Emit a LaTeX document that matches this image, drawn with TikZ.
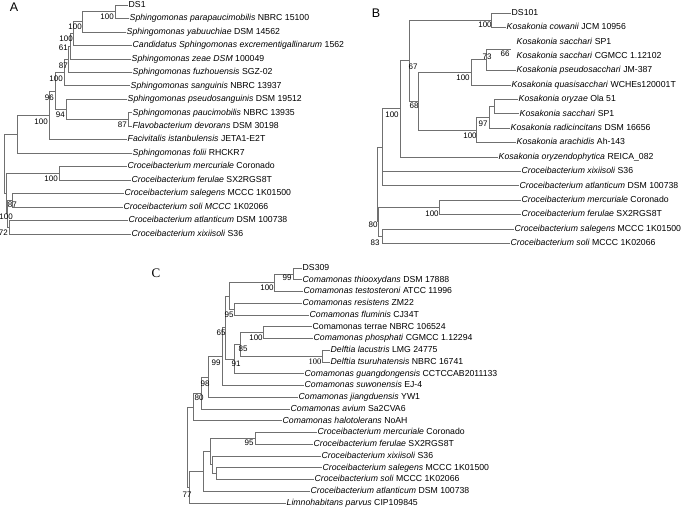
\documentclass[tikz,border=0pt]{standalone}
\usepackage{fontspec}
\setmainfont{Liberation Sans}
\newfontfamily\seriffont{Liberation Serif}
\definecolor{treegray}{RGB}{112,112,112}
\begin{document}
\begin{tikzpicture}[x=1pt,y=-1pt,
  tip/.style={anchor=west,inner sep=1pt,text height=6.3pt,text depth=1.8pt,font=\fontsize{8.7}{10}\selectfont},
  bs/.style={inner sep=0pt,font=\fontsize{8}{9}\selectfont},
  bsr/.style={inner sep=0pt,font=\seriffont\fontsize{8.5}{9}\selectfont},
  br/.style={draw=treegray,line width=0.75pt},
  plab/.style={inner sep=0pt,font=\fontsize{12.5}{14}\selectfont}]
\useasboundingbox (0,0) rectangle (685,508);

% ================= Panel A =================
\node[plab] (LA) at (14,7) {A};
\node[tip] (a0) at (127.5,5.00) {DS1};
\node[tip] (a1) at (128.5,18.47) {\textit{Sphingomonas parapaucimobilis} NBRC 15100};
\node[tip] (a2) at (125.5,31.94) {\textit{Sphingomonas yabuuchiae} DSM 14562};
\node[tip] (a3) at (131.5,45.41) {\textit{Candidatus Sphingomonas excrementigallinarum} 1562};
\node[tip] (a4) at (130.5,58.88) {\textit{Sphingomonas zeae DSM} 100049};
\node[tip] (a5) at (131.5,72.35) {\textit{Sphingomonas fuzhouensis} SGZ-02};
\node[tip] (a6) at (129.5,85.82) {\textit{Sphingomonas sanguinis} NBRC 13937};
\node[tip] (a7) at (126.5,99.29) {\textit{Sphingomonas pseudosanguinis} DSM 19512};
\node[tip] (a8) at (131.5,112.76) {\textit{Sphingomonas paucimobilis} NBRC 13935};
\node[tip] (a9) at (131.5,126.23) {\textit{Flavobacterium devorans} DSM 30198};
\node[tip] (a10) at (126.5,139.70) {\textit{Facivitalis istanbulensis} JETA1-E2T};
\node[tip] (a11) at (131.5,153.17) {\textit{Sphingomonas folii} RHCKR7};
\node[tip] (a12) at (126.5,166.64) {\textit{Croceibacterium mercuriale} Coronado};
\node[tip] (a13) at (130.5,180.11) {\textit{Croceibacterium ferulae} SX2RGS8T};
\node[tip] (a14) at (123.5,193.58) {\textit{Croceibacterium salegens} MCCC 1K01500};
\node[tip] (a15) at (122.5,207.05) {\textit{Croceibacterium soli MCCC} 1K02066};
\node[tip] (a16) at (127.5,220.52) {\textit{Croceibacterium atlanticum} DSM 100738};
\node[tip] (a17) at (130.5,233.99) {\textit{Croceibacterium xixiisoli} S36};

\coordinate (n1) at (115,11.74);
\coordinate (n2) at (82,21.84);
\coordinate (n3) at (73,33.6);
\coordinate (n4) at (70,46.24);
\coordinate (n5) at (68,59.3);
\coordinate (n6) at (64,72.56);
\coordinate (n8) at (128,119.5);
\coordinate (n7) at (66,109.4);
\coordinate (n9) at (55,90.98);
\coordinate (n10) at (49,115.34);
\coordinate (n11) at (17,134.26);
\coordinate (n12) at (59,173.38);
\coordinate (n13) at (12,200.3);
\coordinate (n14) at (9,227.26);
\coordinate (n15) at (7,213.8);
\coordinate (n16) at (6,193.6);
\coordinate (nr) at (4.5,163.9);

\draw[br] (n1) |- (a0.west); \draw[br] (n1) |- (a1.west);
\draw[br] (n2) |- (n1); \draw[br] (n2) |- (a2.west);
\draw[br] (n3) |- (n2); \draw[br] (n3) |- (a3.west);
\draw[br] (n4) |- (n3); \draw[br] (n4) |- (a4.west);
\draw[br] (n5) |- (n4); \draw[br] (n5) |- (a5.west);
\draw[br] (n6) |- (n5); \draw[br] (n6) |- (a6.west);
\draw[br] (n8) |- (a8.west); \draw[br] (n8) |- (a9.west);
\draw[br] (n7) |- (a7.west); \draw[br] (n7) |- (n8);
\draw[br] (n9) |- (n6); \draw[br] (n9) |- (n7);
\draw[br] (n10) |- (n9); \draw[br] (n10) |- (a10.west);
\draw[br] (n11) |- (n10); \draw[br] (n11) |- (a11.west);
\draw[br] (n12) |- (a12.west); \draw[br] (n12) |- (a13.west);
\draw[br] (n13) |- (a14.west); \draw[br] (n13) |- (a15.west);
\draw[br] (n14) |- (a16.west); \draw[br] (n14) |- (a17.west);
\draw[br] (n15) |- (n13); \draw[br] (n15) |- (n14);
\draw[br] (n16) |- (n12); \draw[br] (n16) |- (n15);
\draw[br] (nr) |- (n11); \draw[br] (nr) |- (n16);

\node[bs,anchor=east] (bA1) at (114,17) {100};
\node[bs,anchor=east] (bA2) at (82,27) {100};
\node[bs,anchor=east] (bA3) at (73,39) {100};
\node[bs,anchor=east] (bA4) at (68,48) {61};
\node[bs,anchor=east] (bA5) at (68,66) {87};
\node[bs,anchor=east] (bA6) at (63,79) {100};
\node[bs,anchor=east] (bA8) at (127,125) {87};
\node[bs,anchor=east] (bA7) at (65,115) {94};
\node[bs,anchor=east] (bA9) at (54,98) {96};
\node[bs,anchor=east] (bA10) at (48,122) {100};
\node[bs,anchor=east] (bA12) at (58,179) {100};
\node[bs,anchor=east] (bA13) at (17,205) {87};
\node[bs,anchor=east] (bA15) at (13,217) {100};
\node[bs,anchor=east] (bA14) at (8,233) {72};

% ================= Panel B =================
\node[plab] (LB) at (376,13) {B};
\node[tip] (b0) at (510.5,13.0) {DS101};
\node[tip] (b1) at (505.5,27.4) {\textit{Kosakonia cowanii} JCM 10956};
\node[tip] (b2) at (515.5,41.8) {\textit{Kosakonia sacchari} SP1};
\node[tip] (b3) at (515.5,56.2) {\textit{Kosakonia sacchari} CGMCC 1.12102};
\node[tip] (b4) at (515.5,70.6) {\textit{Kosakonia pseudosacchari} JM-387};
\node[tip] (b5) at (510.5,85.0) {\textit{Kosakonia quasisacchari} WCHEs120001T};
\node[tip] (b6) at (517.5,99.4) {\textit{Kosakonia oryzae} Ola 51};
\node[tip] (b7) at (518.5,113.8) {\textit{Kosakonia sacchari} SP1};
\node[tip] (b8) at (509.5,128.2) {\textit{Kosakonia radicincitans} DSM 16656};
\node[tip] (b9) at (515.5,142.6) {\textit{Kosakonia arachidis} Ah-143};
\node[tip] (b10) at (497.5,157.0) {\textit{Kosakonia oryzendophytica} REICA\_082};
\node[tip] (b11) at (520.5,171.4) {\textit{Croceibacterium xixiisoli} S36};
\node[tip] (b12) at (518.5,185.8) {\textit{Croceibacterium atlanticum} DSM 100738};
\node[tip] (b13) at (520.5,200.2) {\textit{Croceibacterium mercuriale} Coronado};
\node[tip] (b14) at (520.5,214.6) {\textit{Croceibacterium ferulae} SX2RGS8T};
\node[tip] (b15) at (513.5,229.0) {\textit{Croceibacterium salegens} MCCC 1K01500};
\node[tip] (b16) at (509.5,243.4) {\textit{Croceibacterium soli} MCCC 1K02066};

\coordinate (m1) at (491,20.2);
\coordinate (m2) at (511,49.0);
\coordinate (m3) at (486,59.8);
\coordinate (m4) at (471,72.4);
\coordinate (q1) at (494,106.6);
\coordinate (q2) at (489,117.4);
\coordinate (q3) at (476,130.0);
\coordinate (m5) at (418,101.2);
\coordinate (m6) at (409,60.7);
\coordinate (mx) at (400,108.85);
\coordinate (my) at (382,147.4);
\coordinate (mm) at (439,207.4);
\coordinate (ms) at (382,236.2);
\coordinate (mr2) at (378,221.8);
\coordinate (mr1) at (377,184.6);

\draw[br] (m1) |- (b0.west); \draw[br] (m1) |- (b1.west);
\draw[br] (m3) |- (m2); \draw[br] (m3) |- (b4.west);
\draw[br] (m4) |- (m3); \draw[br] (m4) |- (b5.west);
\draw[br] (q1) |- (b6.west); \draw[br] (q1) |- (b7.west);
\draw[br] (q2) |- (q1); \draw[br] (q2) |- (b8.west);
\draw[br] (q3) |- (q2); \draw[br] (q3) |- (b9.west);
\draw[br] (m5) |- (m4); \draw[br] (m5) |- (q3);
\draw[br] (m6) |- (m1); \draw[br] (m6) |- (m5);
\draw[br] (mx) |- (m6); \draw[br] (mx) |- (b10.west);
\draw[br] (my) |- (mx); \draw[br] (my) |- (b11.west); \draw[br] (my) |- (b12.west);
\draw[br] (mm) |- (b13.west); \draw[br] (mm) |- (b14.west);
\draw[br] (ms) |- (b15.west); \draw[br] (ms) |- (b16.west);
\draw[br] (mr2) |- (mm); \draw[br] (mr2) |- (ms);
\draw[br] (mr1) |- (my); \draw[br] (mr1) |- (mr2);

\node[bs] (bB1) at (485,25) {100};
\node[bs] (bB2) at (505,54) {66};
\node[bs] (bB3) at (487,57) {73};
\node[bs] (bB4) at (463,78) {100};
\node[bs] (bB5) at (483,124) {97};
\node[bs] (bB6) at (470,136) {100};
\node[bs] (bB7) at (414,106) {68};
\node[bs] (bB8) at (413,67) {67};
\node[bs] (bB9) at (392,115) {100};
\node[bs] (bB10) at (432,214) {100};
\node[bs] (bB11) at (373,225) {80};
\node[bs] (bB12) at (375,243) {83};

% ================= Panel C =================
\node[plab,font=\seriffont\fontsize{13}{14}\selectfont] (LC) at (156,273) {C};
\node[tip] (c0) at (301.5,268.00) {DS309};
\node[tip] (c1) at (301.5,279.75) {\textit{Comamonas thiooxydans} DSM 17888};
\node[tip] (c2) at (302.5,291.50) {\textit{Comamonas testosteroni} ATCC 11996};
\node[tip] (c3) at (301.5,303.25) {\textit{Comamonas resistens} ZM22};
\node[tip] (c4) at (308.5,315.00) {\textit{Comamonas fluminis} CJ34T};
\node[tip] (c5) at (311.5,326.75) {Comamonas terrae NBRC 106524};
\node[tip] (c6) at (312.5,338.50) {\textit{Comamonas phosphati} CGMCC 1.12294};
\node[tip] (c7) at (329.5,350.25) {\textit{Delftia lacustris} LMG 24775};
\node[tip] (c8) at (329.5,362.00) {\textit{Delftia tsuruhatensis} NBRC 16741};
\node[tip] (c9) at (303.5,373.75) {\textit{Comamonas guangdongensis} CCTCCAB2011133};
\node[tip] (c10) at (303.5,385.50) {\textit{Comamonas suwonensis} EJ-4};
\node[tip] (c11) at (297.5,397.25) {\textit{Comamonas jiangduensis} YW1};
\node[tip] (c12) at (289.5,409.00) {\textit{Comamonas avium} Sa2CVA6};
\node[tip] (c13) at (281.5,420.75) {\textit{Comamonas halotolerans} NoAH};
\node[tip] (c14) at (316.5,432.50) {\textit{Croceibacterium mercuriale} Coronado};
\node[tip] (c15) at (312.5,444.25) {\textit{Croceibacterium ferulae} SX2RGS8T};
\node[tip] (c16) at (320.5,456.00) {\textit{Croceibacterium xixiisoli} S36};
\node[tip] (c17) at (321.5,467.75) {\textit{Croceibacterium salegens} MCCC 1K01500};
\node[tip] (c18) at (313.5,479.50) {\textit{Croceibacterium soli} MCCC 1K02066};
\node[tip] (c19) at (309.5,491.25) {\textit{Croceibacterium atlanticum} DSM 100738};
\node[tip] (c20) at (285.5,503.00) {\textit{Limnohabitans parvus} CIP109845};

\coordinate (k1) at (293,273.9);
\coordinate (k2) at (274,282.7);
\coordinate (k3) at (234,309.1);
\coordinate (k4) at (229,295.9);
\coordinate (k6) at (263,332.6);
\coordinate (k5) at (322,356.1);
\coordinate (k7) at (240,344.4);
\coordinate (k8) at (234,359.1);
\coordinate (k9) at (225,327.5);
\coordinate (k10) at (222,356.5);
\coordinate (k11) at (208,376.9);
\coordinate (k12) at (201,393.0);
\coordinate (k13) at (193,406.9);
\coordinate (k14) at (255,438.4);
\coordinate (k16) at (216,473.6);
\coordinate (k17) at (212,464.8);
\coordinate (k15) at (210,451.6);
\coordinate (k18) at (203,471.4);
\coordinate (kr1) at (189,487.2);
\coordinate (kr0) at (187,447.0);

\draw[br] (k1) |- (c0.west); \draw[br] (k1) |- (c1.west);
\draw[br] (k2) |- (k1); \draw[br] (k2) |- (c2.west);
\draw[br] (k3) |- (c3.west); \draw[br] (k3) |- (c4.west);
\draw[br] (k4) |- (k2); \draw[br] (k4) |- (k3);
\draw[br] (k6) |- (c5.west); \draw[br] (k6) |- (c6.west);
\draw[br] (k5) |- (c7.west); \draw[br] (k5) |- (c8.west);
\draw[br] (k7) |- (k6); \draw[br] (k7) |- (k5);
\draw[br] (k8) |- (k7); \draw[br] (k8) |- (c9.west);
\draw[br] (k9) |- (k4); \draw[br] (k9) |- (k8);
\draw[br] (k10) |- (k9); \draw[br] (k10) |- (c10.west);
\draw[br] (k11) |- (k10); \draw[br] (k11) |- (c11.west);
\draw[br] (k12) |- (k11); \draw[br] (k12) |- (c12.west);
\draw[br] (k13) |- (k12); \draw[br] (k13) |- (c13.west);
\draw[br] (k14) |- (c14.west); \draw[br] (k14) |- (c15.west);
\draw[br] (k16) |- (c17.west); \draw[br] (k16) |- (c18.west);
\draw[br] (k17) |- (c16.west); \draw[br] (k17) |- (k16);
\draw[br] (k15) |- (k14); \draw[br] (k15) |- (k17);
\draw[br] (k18) |- (k15); \draw[br] (k18) |- (c19.west);
\draw[br] (kr1) |- (k18); \draw[br] (kr1) |- (c20.west);
\draw[br] (kr0) |- (k13); \draw[br] (kr0) |- (kr1);

\node[bs] (bC1) at (287,278) {99};
\node[bs] (bC2) at (267,288) {100};
\node[bs] (bC3) at (229,315) {95};
\node[bs] (bC9) at (221,333) {65};
\node[bs] (bC6) at (256,338) {100};
\node[bs] (bC7) at (243,349) {85};
\node[bs] (bC10) at (216,363) {99};
\node[bs] (bC8) at (236,364) {91};
\node[bsr] (bC5) at (315,362) {100};
\node[bs] (bC11) at (205,384) {98};
\node[bs] (bC12) at (199,398) {80};
\node[bs] (bC14) at (249,443) {95};
\node[bs] (bCr) at (187,495) {77};
\end{tikzpicture}
\end{document}
